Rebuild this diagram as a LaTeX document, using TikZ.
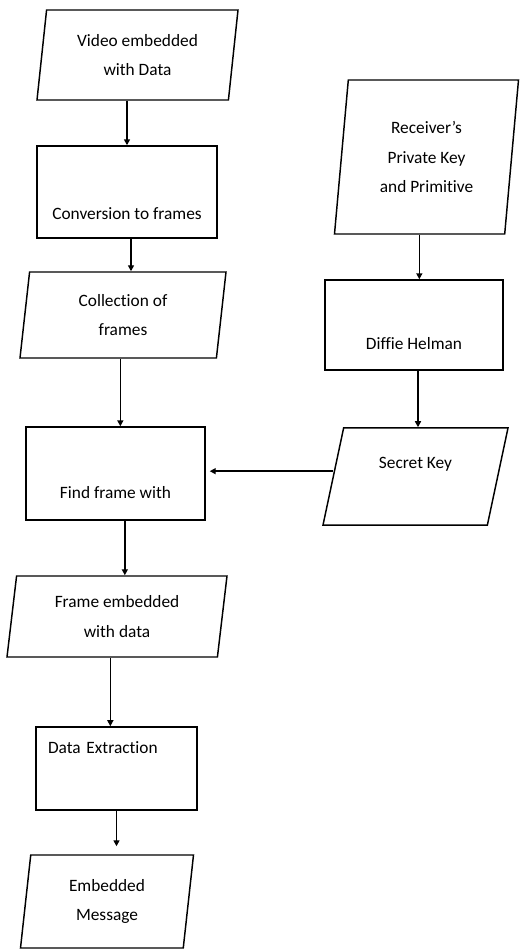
\documentclass[tikz,border=0pt]{standalone}
\usepackage{fontspec}
\setmainfont{Carlito}[Ligatures=NoCommon]
\usetikzlibrary{shapes.geometric, arrows.meta, positioning}

\begin{document}
\begin{tikzpicture}[
    x=0.75pt, y=-0.75pt, line width=1.1pt,
    font=\fontsize{13}{22}\selectfont,
    box/.style={draw, rectangle, inner sep=0pt, align=center},
    para/.style={draw, trapezium, trapezium left angle=77, trapezium right angle=103,
                 trapezium stretches body, inner sep=0pt, align=center},
    arrow/.style={-{Triangle[length=4.5pt, width=4.5pt]}, line width=1.1pt}
]
\useasboundingbox (0,0) rectangle (519,950);

% ====================== LEFT COLUMN: VIDEO SIDE ======================
\node[para, minimum width=150.75pt, minimum height=67.5pt] (video) at (137.5, 55)
    {Video embedded\\with Data};
\node[box, minimum width=135pt, text height=55pt, text depth=14pt] (convert) at (127, 192)
    {Conversion to frames};
\node[para, minimum width=154.5pt, minimum height=64.5pt] (collect) at (123, 315)
    {Collection of\\frames};
\node[box, minimum width=134.25pt, text height=53.6pt, text depth=16.1pt] (find) at (115.5, 473.5)
    {Find frame with};
\node[para, minimum width=165pt, minimum height=60.75pt] (frame) at (117, 616.5)
    {Frame embedded\\with data};
\node[box, text width=102.75pt, inner xsep=9pt, align=left,
      text height=19.9pt, text depth=42.4pt] (extract) at (116.5, 768.5)
    {Data Extraction};
\node[para, minimum width=129.75pt, minimum height=69.75pt] (message) at (107, 901.5)
    {Embedded\\Message};

% ====================== RIGHT COLUMN: KEY SIDE ======================
\node[para, trapezium left angle=79, trapezium right angle=101,
      minimum width=138pt, minimum height=115.5pt] (receiver) at (426.5, 157)
    {Receiver's\\Private Key\\and Primitive};
\node[box, minimum width=133.5pt, text height=52.1pt, text depth=15.4pt] (diffie) at (414, 325)
    {Diffie Helman};
\node[para, trapezium left angle=78, trapezium right angle=102,
      minimum width=138.75pt, text height=30.4pt, text depth=42.4pt] (secret) at (415.5, 476.5)
    {Secret Key};

% ====================== ARROWS ======================
\draw[arrow] (video.south -| convert.north) -- (convert.north);
\draw[arrow] ([xshift=3pt]convert.south) -- ([xshift=3pt]convert.south |- collect.north);
\draw[arrow] ([xshift=-2pt]collect.south) -- ([xshift=-2pt]collect.south |- find.north);
\draw[arrow] ([xshift=7pt]find.south) -- ([xshift=7pt]find.south |- frame.north);
\draw[arrow] ([xshift=-5pt]frame.south) -- ([xshift=-5pt]frame.south |- extract.north);
\draw[arrow, shorten >=6pt] (extract.south) -- (extract.south |- message.north);

\draw[arrow] ([xshift=4pt]receiver.south -| diffie.north) -- ([xshift=4pt]diffie.north);
\draw[arrow] ([xshift=3pt]diffie.south) -- ([xshift=3pt]diffie.south |- secret.north);
\draw[arrow, shorten >=3pt] ([yshift=4pt]secret.west) -- ([yshift=4pt]secret.west -| find.east);

\end{tikzpicture}
\end{document}
